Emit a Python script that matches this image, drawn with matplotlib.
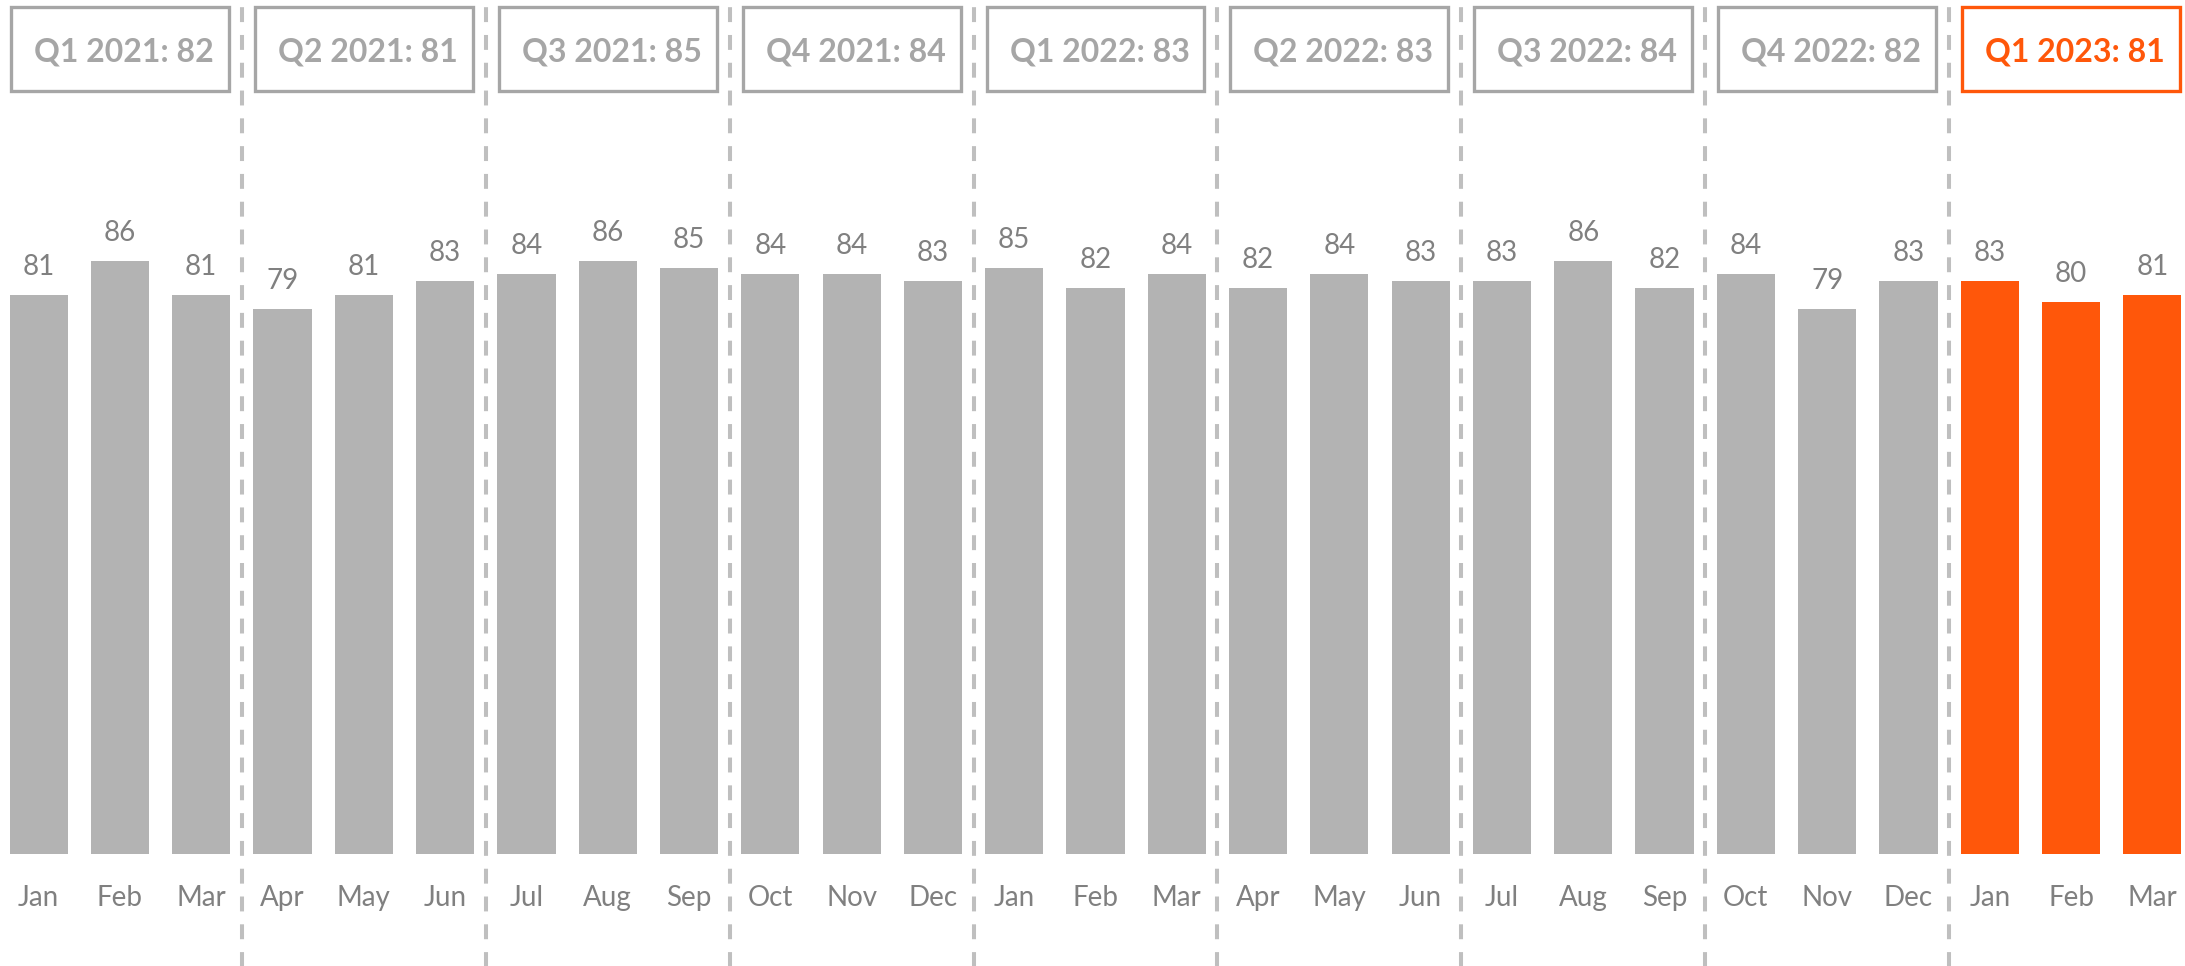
import matplotlib.pyplot as plt
from matplotlib.patches import Rectangle

plt.rcParams['font.family'] = ['Lato', 'DejaVu Sans']

# monthly scores, Jan 2021 - Mar 2023
months = ['Jan', 'Feb', 'Mar', 'Apr', 'May', 'Jun',
          'Jul', 'Aug', 'Sep', 'Oct', 'Nov', 'Dec'] * 2 + ['Jan', 'Feb', 'Mar']
scores = [81, 86, 81, 79, 81, 83, 84, 86, 85, 84, 84, 83,
          85, 82, 84, 82, 84, 83, 83, 86, 82, 84, 79, 83,
          83, 80, 81]

quarters = ['Q1 2021', 'Q2 2021', 'Q3 2021', 'Q4 2021',
            'Q1 2022', 'Q2 2022', 'Q3 2022', 'Q4 2022', 'Q1 2023']
quarter_scores = [82, 81, 85, 84, 83, 83, 84, 82, 81]

GREY = '#b3b3b3'
BOX_GREY = '#a6a6a6'
ORANGE = '#ff570a'
TEXT = '#808080'

fig = plt.figure(figsize=(21.85, 9.66), dpi=100)
ax = fig.add_axes([-2 / 2185, 112 / 966, 2195 / 2185, 854 / 966])
ax.set_xlim(-0.5, len(scores) - 0.5)
ax.set_ylim(0, 123.77)
ax.axis('off')

n_hi = 3  # last quarter is highlighted
colors = [GREY] * (len(scores) - n_hi) + [ORANGE] * n_hi
x = list(range(len(scores)))
ax.bar(x, scores, width=0.716, color=colors)

for xi, v, m in zip(x, scores, months):
    ax.annotate(str(v), (xi, v), xytext=(0, 14.4), textcoords='offset points',
                ha='center', va='baseline', fontsize=20, color=TEXT)
    ax.annotate(m, (xi, 0), xytext=(0, -37.4), textcoords='offset points',
                ha='center', va='baseline', fontsize=20, color=TEXT)

# dashed separators between quarters
for q in range(1, len(quarters)):
    ax.axvline(q * 3 - 0.5, ymin=-0.135, ymax=1.0, clip_on=False,
               color='#bfbfbf', lw=2.9, dashes=(3.7, 3.2))

# quarter summary boxes
for q, (name, val) in enumerate(zip(quarters, quarter_scores)):
    c = ORANGE if q == len(quarters) - 1 else BOX_GREY
    left = q * 3 - 0.5 + 0.16
    right = q * 3 + 2.5 - 0.16
    ax.add_patch(Rectangle((left, 110.6), right - left, 12.15, fill=False,
                           edgecolor=c, lw=2.4, clip_on=False))
    ax.text((left + right) / 2 + 0.05, 114.8, f'{name}: {val}', ha='center',
            va='baseline', fontsize=23, fontweight='bold', color=c)

fig.savefig('out.png', dpi=100)
